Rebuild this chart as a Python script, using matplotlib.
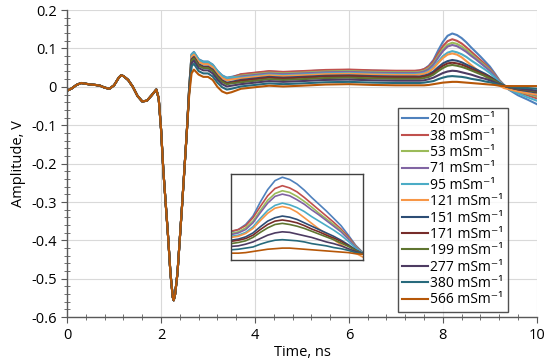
import numpy as np
import matplotlib
matplotlib.use('Agg')
import matplotlib.pyplot as plt
from matplotlib.ticker import MultipleLocator

plt.rcParams['font.family'] = ['Open Sans', 'DejaVu Sans']

# Parte comum a todas as curvas (0 a 2.55 ns)
t_head = [0.0, 0.1, 0.2, 0.3, 0.4, 0.5, 0.6, 0.7, 0.8, 0.9, 1.0, 1.1, 1.15, 1.2, 1.3,
          1.4, 1.5, 1.6, 1.7, 1.8, 1.9, 1.95, 2.0, 2.05, 2.1, 2.15, 2.2, 2.25, 2.27,
          2.3, 2.35, 2.4, 2.45, 2.5, 2.55]
v_head = [-0.010, -0.004, 0.005, 0.010, 0.008, 0.006, 0.005, 0.003, -0.002, -0.005,
          0.004, 0.024, 0.030, 0.028, 0.018, 0.000, -0.024, -0.038, -0.036, -0.022,
          -0.007, -0.030, -0.110, -0.220, -0.305, -0.390, -0.485, -0.548, -0.556,
          -0.540, -0.485, -0.395, -0.305, -0.210, -0.115]

# Parte que diverge (2.6 a 10 ns)
t_tail = [2.6, 2.65, 2.7, 2.8, 2.9, 3.0, 3.1, 3.2, 3.3, 3.4, 3.5, 3.7, 4.0, 4.3, 4.6,
          5.0, 5.5, 6.0, 6.5, 7.0, 7.4,
          7.5, 7.6, 7.7, 7.8, 7.9, 8.0, 8.1, 8.2,
          8.3, 8.4, 8.5, 8.6, 8.7, 8.8, 8.9, 9.0, 9.1, 9.2, 9.3,
          9.4, 9.6, 9.8, 10.0]

labels = ['20', '38', '53', '71', '95', '121', '151', '171', '199', '277', '380', '566']
cores = ['#4F81BD', '#C0504D', '#9BBB59', '#8064A2', '#4BACC6', '#F79646',
         '#2C4D75', '#772C2A', '#5F7530', '#4D3B62', '#276A7C', '#B65708']

s20 = [0.000, 0.085, 0.091, 0.072, 0.066, 0.066, 0.058, 0.042, 0.030, 0.024, 0.026,
       0.032, 0.036, 0.040, 0.038, 0.040, 0.043, 0.044, 0.042, 0.041, 0.041,
       0.042, 0.046, 0.055, 0.070, 0.095, 0.117, 0.133, 0.139,
       0.135, 0.127, 0.116, 0.103, 0.091, 0.079, 0.066, 0.053, 0.036, 0.018, 0.005,
       -0.007, -0.022, -0.033, -0.045]
s38 = [-0.001, 0.083, 0.089, 0.070, 0.064, 0.064, 0.056, 0.040, 0.028, 0.022, 0.024,
       0.033, 0.037, 0.041, 0.039, 0.041, 0.044, 0.045, 0.043, 0.042, 0.042,
       0.043, 0.046, 0.053, 0.067, 0.087, 0.106, 0.119, 0.124,
       0.120, 0.113, 0.103, 0.092, 0.081, 0.070, 0.059, 0.047, 0.033, 0.017, 0.004,
       -0.004, -0.014, -0.022, -0.030]
s53 = [-0.001, 0.082, 0.088, 0.069, 0.063, 0.063, 0.055, 0.039, 0.027, 0.021, 0.023,
       0.029, 0.033, 0.037, 0.035, 0.037, 0.040, 0.041, 0.039, 0.038, 0.038,
       0.039, 0.042, 0.049, 0.061, 0.080, 0.098, 0.110, 0.115,
       0.112, 0.105, 0.096, 0.086, 0.075, 0.065, 0.055, 0.044, 0.030, 0.016, 0.004,
       -0.003, -0.012, -0.018, -0.025]
s71 = [-0.002, 0.080, 0.086, 0.067, 0.061, 0.061, 0.053, 0.037, 0.025, 0.019, 0.021,
       0.027, 0.031, 0.035, 0.033, 0.035, 0.038, 0.039, 0.037, 0.036, 0.036,
       0.037, 0.040, 0.046, 0.058, 0.076, 0.093, 0.105, 0.109,
       0.106, 0.099, 0.091, 0.081, 0.072, 0.062, 0.052, 0.042, 0.029, 0.015, 0.004,
       -0.003, -0.010, -0.016, -0.022]
s95 = [0.000, 0.084, 0.090, 0.071, 0.065, 0.065, 0.057, 0.041, 0.029, 0.023, 0.025,
       0.024, 0.028, 0.032, 0.030, 0.032, 0.035, 0.036, 0.034, 0.033, 0.033,
       0.034, 0.036, 0.041, 0.051, 0.066, 0.080, 0.089, 0.093,
       0.090, 0.085, 0.078, 0.069, 0.061, 0.053, 0.045, 0.036, 0.025, 0.013, 0.004,
       -0.006, -0.017, -0.027, -0.036]
s121 = [-0.003, 0.078, 0.084, 0.065, 0.059, 0.059, 0.051, 0.035, 0.023, 0.017, 0.019,
        0.022, 0.026, 0.030, 0.028, 0.030, 0.033, 0.034, 0.032, 0.031, 0.031,
        0.032, 0.034, 0.039, 0.048, 0.062, 0.075, 0.084, 0.087,
        0.084, 0.077, 0.067, 0.057, 0.047, 0.038, 0.028, 0.019, 0.011, 0.004, -0.003,
        -0.006, -0.012, -0.016, -0.020]
s151 = [-0.006, 0.072, 0.078, 0.059, 0.053, 0.053, 0.045, 0.029, 0.017, 0.011, 0.013,
        0.018, 0.022, 0.026, 0.024, 0.026, 0.029, 0.030, 0.028, 0.027, 0.027,
        0.027, 0.029, 0.033, 0.040, 0.051, 0.061, 0.067, 0.070,
        0.068, 0.064, 0.058, 0.052, 0.046, 0.040, 0.034, 0.027, 0.019, 0.010, 0.003,
        -0.001, -0.007, -0.011, -0.015]
s171 = [-0.007, 0.070, 0.076, 0.057, 0.051, 0.051, 0.043, 0.027, 0.015, 0.009, 0.011,
        0.016, 0.020, 0.024, 0.022, 0.024, 0.027, 0.028, 0.026, 0.025, 0.025,
        0.025, 0.027, 0.030, 0.036, 0.046, 0.055, 0.061, 0.063,
        0.061, 0.058, 0.053, 0.047, 0.042, 0.036, 0.031, 0.025, 0.017, 0.009, 0.003,
        -0.001, -0.006, -0.009, -0.013]
s199 = [-0.008, 0.068, 0.074, 0.055, 0.049, 0.049, 0.041, 0.025, 0.013, 0.007, 0.009,
        0.012, 0.016, 0.020, 0.018, 0.020, 0.023, 0.024, 0.022, 0.021, 0.021,
        0.021, 0.023, 0.026, 0.032, 0.041, 0.049, 0.055, 0.057,
        0.055, 0.052, 0.048, 0.043, 0.038, 0.033, 0.028, 0.022, 0.016, 0.009, 0.003,
        -0.001, -0.005, -0.008, -0.012]
s277 = [-0.010, 0.062, 0.068, 0.049, 0.043, 0.043, 0.035, 0.019, 0.007, 0.001, 0.003,
        0.007, 0.011, 0.015, 0.013, 0.015, 0.018, 0.019, 0.017, 0.016, 0.016,
        0.016, 0.017, 0.020, 0.024, 0.030, 0.036, 0.040, 0.042,
        0.041, 0.038, 0.035, 0.032, 0.028, 0.024, 0.021, 0.017, 0.012, 0.007, 0.003,
        0.000, -0.004, -0.007, -0.010]
s380 = [-0.014, 0.054, 0.060, 0.041, 0.035, 0.035, 0.027, 0.011, -0.001, -0.007, -0.005,
        0.001, 0.005, 0.009, 0.007, 0.009, 0.012, 0.013, 0.011, 0.010, 0.010,
        0.010, 0.011, 0.013, 0.015, 0.020, 0.024, 0.027, 0.028,
        0.027, 0.026, 0.024, 0.021, 0.019, 0.017, 0.014, 0.012, 0.009, 0.005, 0.003,
        0.001, -0.002, -0.003, -0.005]
s566 = [-0.020, 0.035, 0.045, 0.032, 0.026, 0.026, 0.018, 0.000, -0.012, -0.017, -0.014,
        -0.005, -0.001, 0.003, 0.001, 0.003, 0.006, 0.007, 0.005, 0.004, 0.004,
        0.004, 0.004, 0.005, 0.007, 0.009, 0.011, 0.012, 0.013,
        0.013, 0.012, 0.011, 0.010, 0.009, 0.008, 0.007, 0.006, 0.005, 0.003, 0.002,
        0.002, 0.002, 0.002, 0.002]

series = [s20, s38, s53, s71, s95, s121, s151, s171, s199, s277, s380, s566]

t = np.array(t_head + t_tail)

fig = plt.figure(figsize=(5.5, 3.6), dpi=100)
ax = fig.add_axes([0.122, 0.119, 0.854, 0.853])

for lab, cor, s in zip(labels, cores, series):
    ax.plot(t, v_head + s, color=cor, lw=1.5, label=lab + ' mSm⁻¹')

ax.set_xlim(0, 10)
ax.set_ylim(-0.6, 0.2)
ax.xaxis.set_major_locator(MultipleLocator(2))
ax.xaxis.set_minor_locator(MultipleLocator(0.4))
ax.yaxis.set_minor_locator(MultipleLocator(0.02))
yt = [-0.6, -0.5, -0.4, -0.3, -0.2, -0.1, 0, 0.1, 0.2]
ax.set_yticks(yt)
ax.set_yticklabels(['-0.6', '-0.5', '-0.4', '-0.3', '-0.2', '-0.1', '0', '0.1', '0.2'])
ax.grid(True, which='major', color='#D9D9D9', lw=0.8)
ax.set_axisbelow(True)
for lado in ['top', 'right']:
    ax.spines[lado].set_visible(False)
for lado in ['left', 'bottom']:
    ax.spines[lado].set_color('#595959')
    ax.spines[lado].set_linewidth(1.0)
ax.tick_params(which='major', direction='out', length=4, color='#595959', labelsize=10.5)
ax.tick_params(which='minor', direction='inout', length=4, color='#595959')
ax.set_xlabel('Time, ns', fontsize=10.5, labelpad=2)
ax.set_ylabel('Amplitude, V', fontsize=10.5, labelpad=4)

leg = ax.legend(loc='upper left', bbox_to_anchor=(0.704, 0.681), borderaxespad=0,
                frameon=True, fancybox=False, edgecolor='#262626', fontsize=10,
                handlelength=1.9, handletextpad=0.15, labelspacing=0.1, borderpad=0.3)
leg.get_frame().set_linewidth(1.0)

# Inset com a região do pico
axi = fig.add_axes([0.42, 0.278, 0.24, 0.239])
axi.patch.set_alpha(0)
for lab, cor, s in zip(labels, cores, series):
    axi.plot(t, v_head + s, color=cor, lw=1.2)
axi.set_xlim(7.5, 9.3)
axi.set_ylim(-0.008, 0.145)
axi.set_xticks([])
axi.set_yticks([])
for lado in axi.spines.values():
    lado.set_color('#404040')
    lado.set_linewidth(1.0)

plt.savefig('out.png', dpi=100)
